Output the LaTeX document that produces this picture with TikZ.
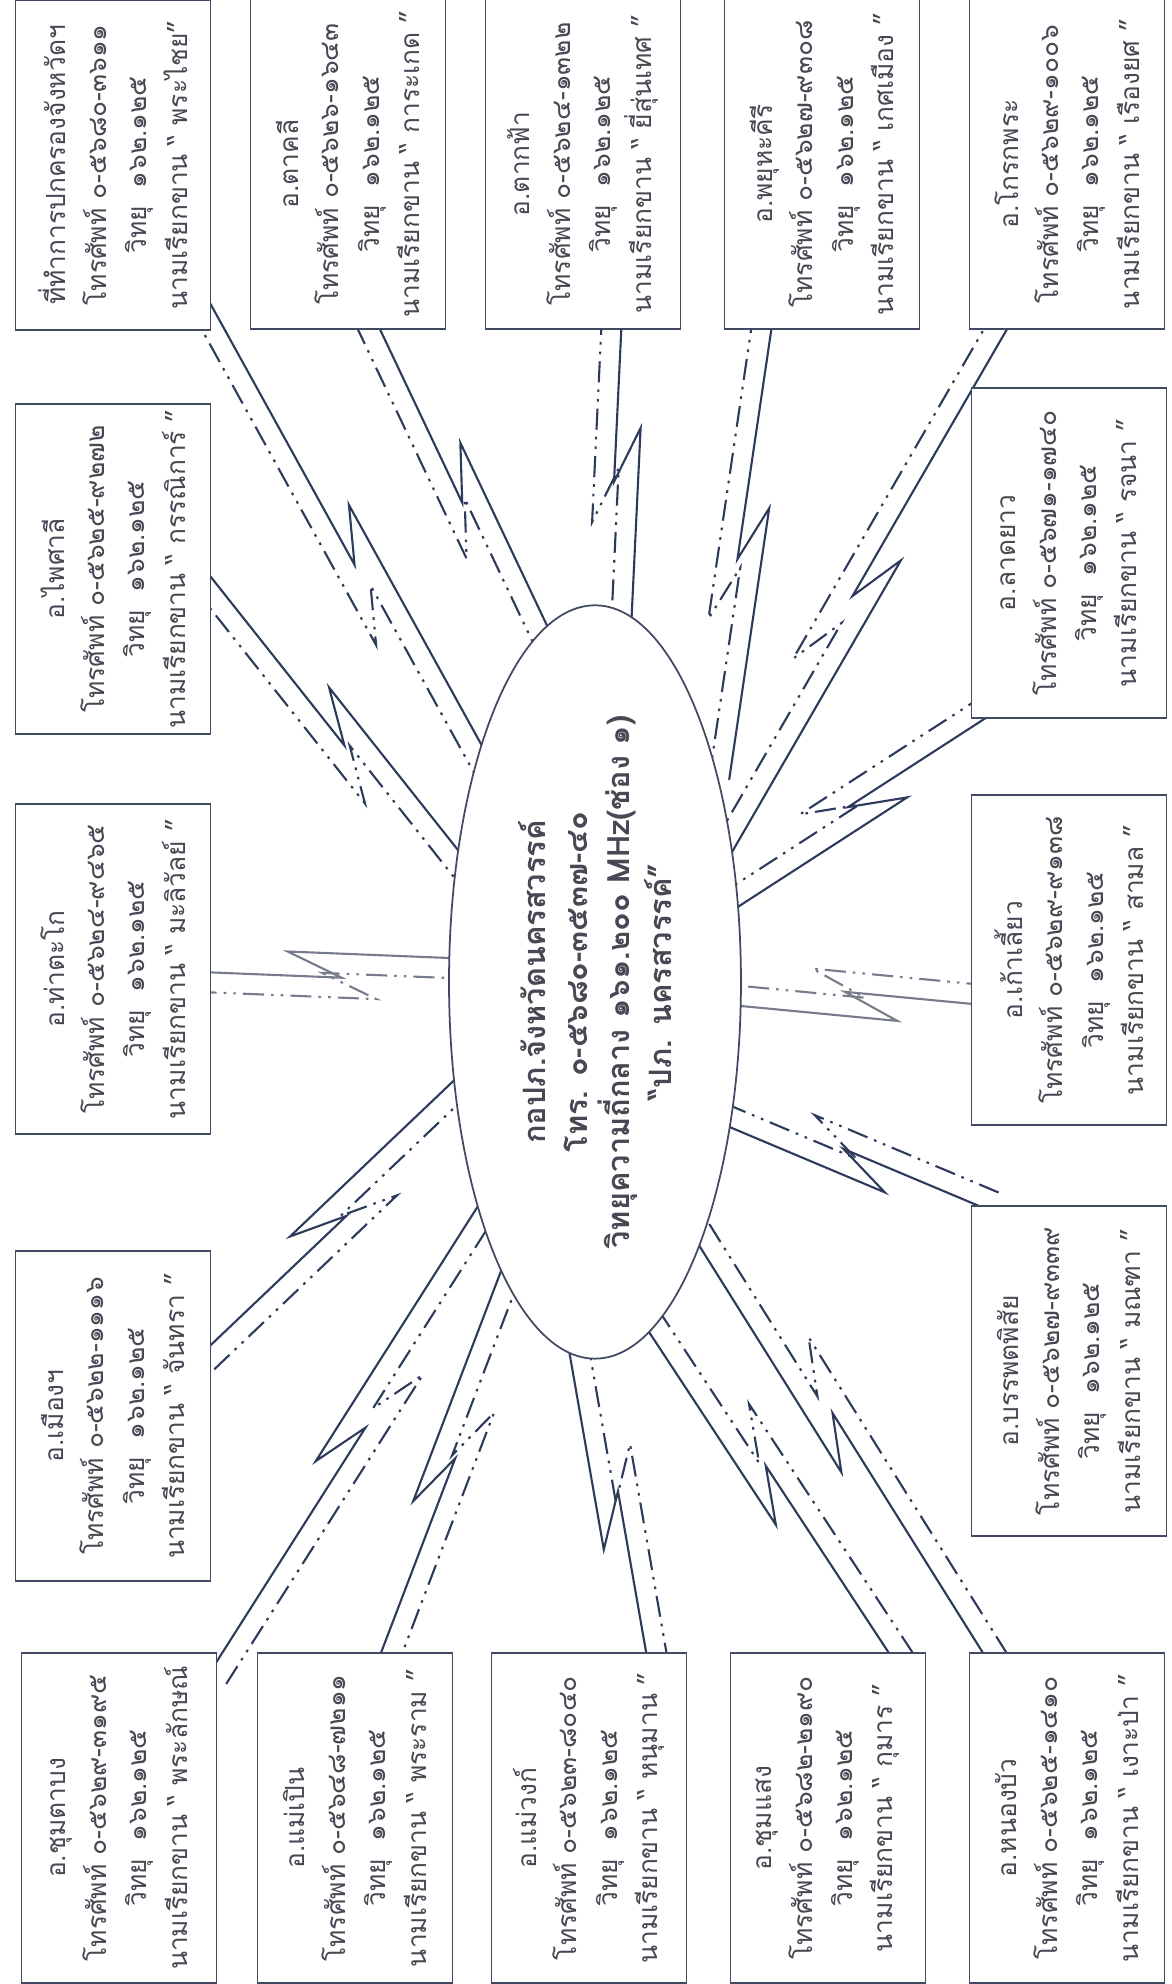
\documentclass[tikz,border=0pt]{standalone}
\usepackage{fontspec}
\setmainfont[Script=Thai]{Loma}
\usepackage{xcolor}
\usepackage{tikz}
\usetikzlibrary{calc,shapes.geometric,backgrounds}

\definecolor{linkblue}{RGB}{44,58,92}
\definecolor{linkgray}{RGB}{118,124,140}
\definecolor{boxline}{RGB}{66,74,98}
\definecolor{inktext}{RGB}{72,72,84}

\begin{document}
\begin{tikzpicture}[x=0.02cm,y=0.02cm,rotate=90,transform shape]

\tikzset{office/.style = {shape=rectangle,draw=boxline,line width=1pt,fill=white,minimum width=6.6cm,minimum height=3.9cm,inner sep=0pt,align=center,text=inktext,font=\fontsize{15}{23}\selectfont}}
\tikzset{hub/.style = {shape=ellipse,draw=boxline,line width=1pt,fill=white,minimum width=13.9cm,minimum height=5.84cm,inner sep=0pt,align=center,text=inktext,font=\fontsize{17.5}{24}\selectfont\bfseries}}
\tikzset{radio/.style = {draw=linkblue,line width=1.2pt,to path={
  ($(\tikztostart)!0.55!(\tikztotarget)$) coordinate (z1)
  ($(z1)!-1.1cm!(\tikztotarget)!0.48cm!90:(\tikztotarget)$) coordinate (z2)
  ($(\tikztotarget)!0.48cm!-90:(\tikztostart)$) coordinate (z3)
  ($(\tikztostart)!-0.3cm!(\tikztotarget)$) -- (z1) -- (z2) -- ($(z3)!-0.6cm!(z2)$)}}}
\tikzset{radiodash/.style = {draw=linkblue,line width=1.2pt,dash pattern=on 12pt off 4pt on 1.5pt off 4pt on 1.5pt off 4pt,to path={
  ($(\tikztostart)!0.4cm!-90:(\tikztotarget)$) coordinate (d0)
  ($(\tikztotarget)!0.4cm!90:(\tikztostart)$) coordinate (d4)
  ($(d0)!0.7!(d4)$) coordinate (d1)
  ($(d1)!-1.1cm!(d4)!0.48cm!90:(d4)$) coordinate (d2)
  ($(d4)!0.48cm!-90:(d0)$) coordinate (d3)
  ($(d0)!-0.3cm!(d4)$) -- (d1) -- (d2) -- ($(d3)!-0.6cm!(d2)$)}}}

\useasboundingbox (0,0) rectangle (1984,1172);

% centre
\node[hub] (hq) at (1002,577) {กอปภ.จังหวัดนครสวรรค์\\โทร. ๐-๕๖๘๐-๓๕๓๗-๔๐\\วิทยุความถี่กลาง ๑๖๑.๒๐๐ MHz(ช่อง ๑)\\“ปภ. นครสวรรค์”};

% offices
\node[office] (pkk) at (1819,1059) {ที่ทำการปกครองจังหวัดฯ\\โทรศัพท์ ๐-๕๖๘๐-๓๖๑๑\\วิทยุ~~๑๖๒.๑๒๕\\นามเรียกขาน “ พระไชย”};
\node[office] (paisali) at (1415,1059) {อ.ไพศาลี\\โทรศัพท์ ๐-๕๖๒๕-๙๒๗๒\\วิทยุ~~๑๖๒.๑๒๕\\นามเรียกขาน “ กรรณิการ์ ”};
\node[office] (thatako) at (1015,1059) {อ.ท่าตะโก\\โทรศัพท์ ๐-๕๖๒๔-๙๔๖๕\\วิทยุ~~๑๖๒.๑๒๕\\นามเรียกขาน “ มะลิวัลย์ ”};
\node[office] (mueang) at (568,1059) {อ.เมืองฯ\\โทรศัพท์ ๐-๕๖๒๒-๑๑๑๖\\วิทยุ~~๑๖๒.๑๒๕\\นามเรียกขาน “ จันทรา ”};
\node[office] (chumtabong) at (166,1053) {อ.ชุมตาบง\\โทรศัพท์ ๐-๕๖๒๙-๓๑๙๕\\วิทยุ~~๑๖๒.๑๒๕\\นามเรียกขาน “ พระลักษณ์};
\node[office] (takhli) at (1820,824) {อ.ตาคลี\\โทรศัพท์ ๐-๕๖๒๖-๑๖๔๓\\วิทยุ~~๑๖๒.๑๒๕\\นามเรียกขาน “ การะเกด ”};
\node[office] (takfa) at (1820,589) {อ.ตากฟ้า\\โทรศัพท์ ๐-๕๖๒๔-๑๓๒๒\\วิทยุ~~๑๖๒.๑๒๕\\นามเรียกขาน “ ยี่สุ่นเทศ ”};
\node[office] (phayuha) at (1820,350) {อ.พยุหะคีรี\\โทรศัพท์ ๐-๕๖๒๗-๙๓๐๘\\วิทยุ~~๑๖๒.๑๒๕\\นามเรียกขาน “ เกศเมือง ”};
\node[office] (krokphra) at (1820,105) {อ.โกรกพระ\\โทรศัพท์ ๐-๕๖๒๙-๑๐๐๖\\วิทยุ~~๑๖๒.๑๒๕\\นามเรียกขาน “ เรืองยศ ”};
\node[office] (latyao) at (1431,103) {อ.ลาดยาว\\โทรศัพท์ ๐-๕๖๗๑-๑๗๔๐\\วิทยุ~~๑๖๒.๑๒๕\\นามเรียกขาน “ รจนา ”};
\node[office] (kaoliao) at (1024,103) {อ.เก้าเลี้ยว\\โทรศัพท์ ๐-๕๖๒๙-๙๑๓๘\\วิทยุ~~๑๖๒.๑๒๕\\นามเรียกขาน “ สามล ”};
\node[office] (banphot) at (613,103) {อ.บรรพตพิสัย\\โทรศัพท์ ๐-๕๖๒๗-๙๓๓๙\\วิทยุ~~๑๖๒.๑๒๕\\นามเรียกขาน “ มณฑา ”};
\node[office] (maepoen) at (166,817) {อ.แม่เปิน\\โทรศัพท์ ๐-๕๖๔๘-๗๒๑๑\\วิทยุ~~๑๖๒.๑๒๕\\นามเรียกขาน “ พระราม ”};
\node[office] (maewong) at (166,583) {อ.แม่วงก์\\โทรศัพท์ ๐-๕๖๒๓-๘๐๔๐\\วิทยุ~~๑๖๒.๑๒๕\\นามเรียกขาน “ หนุมาน ”};
\node[office] (chumsaeng) at (166,344) {อ.ชุมแสง\\โทรศัพท์ ๐-๕๖๘๒-๒๑๙๐\\วิทยุ~~๑๖๒.๑๒๕\\นามเรียกขาน “ กุมาร ”};
\node[office] (nongbua) at (166,105) {อ.หนองบัว\\โทรศัพท์ ๐-๕๖๒๕-๑๔๑๐\\วิทยุ~~๑๖๒.๑๒๕\\นามเรียกขาน “ เงาะป่า ”};

% radio links
\begin{scope}[on background layer]
\draw[radio] (pkk.215) to (hq.31);
\draw[radiodash] (pkk.215) to (hq.31);
\draw[radio] (takhli.191) to (hq.11);
\draw[radiodash] (takhli.191) to (hq.11);
\draw[radio] (takfa.193) to (hq.358);
\draw[radiodash] (takfa.193) to (hq.358);
\draw[radio] (phayuha.163) to (hq.334);
\draw[radiodash] (phayuha.163) to (hq.334);
\draw[radio] (krokphra.160) to (hq.322);
\draw[radiodash] (krokphra.160) to (hq.322);
\draw[radio] (latyao.153) to (hq.306);
\draw[radiodash] (latyao.153) to (hq.306);
\draw[radio,draw=linkgray] (kaoliao.114) to (hq.270);
\draw[radiodash,draw=linkgray] (kaoliao.114) to (hq.270);
\draw[radio] (banphot.29) to (hq.229);
\draw[radiodash] (banphot.29) to (hq.229);
\draw[radio] (nongbua.27) to (hq.206);
\draw[radiodash] (nongbua.27) to (hq.206);
\draw[radio] (chumsaeng.340) to (hq.192);
\draw[radiodash] (chumsaeng.340) to (hq.192);
\draw[radio] (maewong.341) to (hq.180);
\draw[radiodash] (maewong.341) to (hq.180);
\draw[radio] (maepoen.351) to (hq.166);
\draw[radiodash] (maepoen.351) to (hq.166);
\draw[radio] (chumtabong.328) to (hq.157);
\draw[radiodash] (chumtabong.328) to (hq.157);
\draw[radio] (mueang.306) to (hq.133);
\draw[radiodash] (mueang.306) to (hq.133);
\draw[radio,draw=linkgray] (thatako.268) to (hq.90);
\draw[radiodash,draw=linkgray] (thatako.268) to (hq.90);
\draw[radio] (paisali.265) to (hq.55);
\draw[radiodash] (paisali.265) to (hq.55);
\end{scope}
\end{tikzpicture}
\end{document}
